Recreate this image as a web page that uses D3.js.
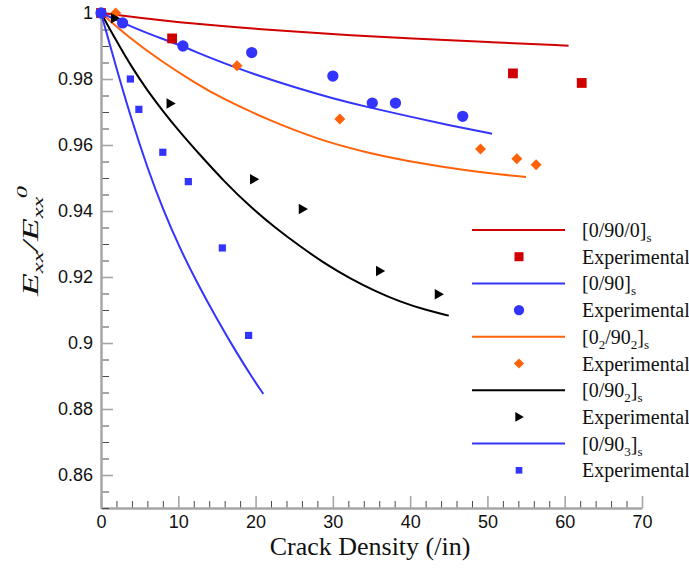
<!DOCTYPE html>
<html>
<head>
<meta charset="utf-8">
<script src="https://cdn.jsdelivr.net/npm/d3@7"></script>
<style>
  body { margin: 0; background: #fff; }
  svg { display: block; }
</style>
</head>
<body>
<svg id="chart" width="689" height="575"></svg>
<script>
// Stiffness reduction vs. crack density: model curves and experimental points

// [0/90/0]s
const r1LineX = [0, 5, 10, 16, 20, 26, 32, 40, 50, 60.5];
const r1LineY = [1, 0.9985, 0.9972, 0.9960, 0.9952, 0.9942, 0.9933, 0.9923, 0.9912, 0.9901];
const r1ExpX = [0, 9.2, 53.3, 62.2];
const r1ExpY = [1.0, 0.9923, 0.9817, 0.9788];

// [0/90]s
const b1LineX = [0, 3, 6, 10, 15, 20, 25, 30, 35, 40, 45, 50.6];
const b1LineY = [1, 0.9968, 0.9938, 0.9905, 0.9855, 0.9813, 0.9775, 0.9741, 0.9712, 0.9686, 0.9660, 0.9634];
const b1ExpX = [0, 2.8, 10.6, 19.5, 30.0, 35.1, 38.1, 46.8];
const b1ExpY = [1.0, 0.9970, 0.9900, 0.9880, 0.9809, 0.9727, 0.9727, 0.9687];

// [0_2/90_2]s
const o1LineX = [0, 3.5, 7.85, 12.2, 15.4, 21.9, 28.3, 34.8, 41.3, 47.7, 51.6, 55];
const o1LineY = [1, 0.9928, 0.9853, 0.9788, 0.9744, 0.9673, 0.9615, 0.9574, 0.9544, 0.9521, 0.9511, 0.9503];
const o1ExpX = [1.9, 17.6, 30.9, 49.1, 53.8, 56.3];
const o1ExpY = [1.0, 0.9840, 0.9679, 0.9588, 0.9558, 0.9540];

// [0/90_2]s
const k1LineX = [0, 2, 4, 6, 8, 10, 12.8, 16, 19.3, 22.5, 25.8, 29, 32.2, 35.5, 38.7, 42, 45];
const k1LineY = [1, 0.9915, 0.9835, 0.9765, 0.9703, 0.9645, 0.9570, 0.9488, 0.9413, 0.9350, 0.9292, 0.9240, 0.9196, 0.9157, 0.9125, 0.9100, 0.9083];
const k1ExpX = [1.8, 9.0, 19.8, 26.1, 36.1, 43.7];
const k1ExpY = [0.9984, 0.9726, 0.9496, 0.9406, 0.9218, 0.9148];

// [0/90_3]s
const b3LineX = [0, 2, 3.9, 6.1, 8, 10.2, 12.4, 15, 17.5, 19.9, 21];
const b3LineY = [1, 0.9832, 0.9680, 0.9524, 0.9406, 0.9287, 0.9184, 0.9072, 0.8972, 0.8883, 0.8846];
const b3ExpX = [0, 3.8, 4.9, 8.0, 11.3, 15.7, 19.1];
const b3ExpY = [1.0, 0.9800, 0.9708, 0.9578, 0.9489, 0.9288, 0.9023];

// Legend labels: [text, isSubscript] pieces
const legendLabels = [
  [["[0/90/0]", false], ["s", true]],
  [["Experimental", false]],
  [["[0/90]", false], ["s", true]],
  [["Experimental", false]],
  [["[0", false], ["2", true], ["/90", false], ["2", true], ["]", false], ["s", true]],
  [["Experimental", false]],
  [["[0/90", false], ["2", true], ["]", false], ["s", true]],
  [["Experimental", false]],
  [["[0/90", false], ["3", true], ["]", false], ["s", true]],
  [["Experimental", false]]
];

const xMajorTicks = [0, 10, 20, 30, 40, 50, 60, 70];
const yMajorTicks = [0.86, 0.88, 0.9, 0.92, 0.94, 0.96, 0.98, 1];
const xTitle = "Crack Density (/in)";

const RED = "#d10000", BLUE = "#3434ff", ORANGE = "#ff6208", BLACK = "#000000";

const svg = d3.select("#chart");
const x = d3.scaleLinear([0, 70], [101, 642]);
const y = d3.scaleLinear([0.85, 1.0], [508, 13]);

// custom marker shapes
const triRight = {
  draw(ctx, size) {
    const h = Math.sqrt(size);
    ctx.moveTo(-h * 0.42, -h * 0.55);
    ctx.lineTo(h * 0.55, 0);
    ctx.lineTo(-h * 0.42, h * 0.55);
    ctx.closePath();
  }
};
const diamond = {
  draw(ctx, size) {
    const r = Math.sqrt(size) / 2;
    ctx.moveTo(0, -r);
    ctx.lineTo(r, 0);
    ctx.lineTo(0, r);
    ctx.lineTo(-r, 0);
    ctx.closePath();
  }
};

const series = [
  { lx: r1LineX, ly: r1LineY, ex: r1ExpX, ey: r1ExpY, color: RED, sym: d3.symbolSquare, size: 96 },
  { lx: b1LineX, ly: b1LineY, ex: b1ExpX, ey: b1ExpY, color: BLUE, sym: d3.symbolCircle, size: 100 },
  { lx: o1LineX, ly: o1LineY, ex: o1ExpX, ey: o1ExpY, color: ORANGE, sym: diamond, size: 121 },
  { lx: k1LineX, ly: k1LineY, ex: k1ExpX, ey: k1ExpY, color: BLACK, sym: triRight, size: 90 },
  { lx: b3LineX, ly: b3LineY, ex: b3ExpX, ey: b3ExpY, color: BLUE, sym: d3.symbolSquare, size: 52 }
];

// ---- axes ----
const axisColor = "#a6a6a6";
const xMinor = d3.range(0, 71, 2).filter(v => v % 10 !== 0);
const yMinor = d3.range(0, 30).map(i => +(0.85 + i * 0.005).toFixed(3)).filter(v => v <= 1 && Math.round(v * 1000) % 20 !== 0);

const gx = svg.append("g").attr("transform", "translate(0,508)");
gx.call(d3.axisBottom(x).tickValues(xMinor).tickSize(-7).tickSizeOuter(0).tickFormat(""));
gx.call(g => g.selectAll(".tick line").attr("stroke", "#4a4a4a").attr("stroke-width", 1));
const gx2 = svg.append("g").attr("transform", "translate(0,508)");
gx2.call(d3.axisBottom(x).tickValues(xMajorTicks).tickSize(-12).tickSizeOuter(0).tickPadding(7).tickFormat(d3.format("d")));

const gy = svg.append("g").attr("transform", "translate(101,0)");
gy.call(d3.axisLeft(y).tickValues(yMinor).tickSize(-8).tickSizeOuter(0).tickFormat(""));
gy.call(g => g.selectAll(".tick line").attr("stroke", "#4a4a4a").attr("stroke-width", 1));
const gy2 = svg.append("g").attr("transform", "translate(101,0)");
gy2.call(d3.axisLeft(y).tickValues(yMajorTicks).tickSize(-12).tickSizeOuter(0).tickPadding(8)
  .tickFormat(d => String(+d.toFixed(2))));

[gx, gy].forEach(g => g.select(".domain").remove());
[gx2, gy2].forEach(g => {
  g.select(".domain").attr("stroke", axisColor).attr("stroke-width", 2.5);
  g.selectAll(".tick line").attr("stroke", axisColor).attr("stroke-width", 1.6);
  g.selectAll(".tick text").attr("fill", "#111")
    .style("font-family", "'Liberation Sans', Arial, sans-serif").style("font-size", "18px");
});

// ---- curves and points ----
const line = d3.line().curve(d3.curveBasis);
const plot = svg.append("g");
series.forEach(s => {
  const pts = s.lx.map((v, i) => [x(v), y(s.ly[i])]);
  plot.append("path").attr("d", line(pts)).attr("fill", "none")
    .attr("stroke", s.color).attr("stroke-width", 2);
});
series.forEach(s => {
  plot.append("g").selectAll("path").data(s.ex.map((v, i) => [v, s.ey[i]])).join("path")
    .attr("transform", d => `translate(${x(d[0])},${y(d[1])})`)
    .attr("d", d3.symbol().type(s.sym).size(s.size))
    .attr("fill", s.color);
});

// ---- axis titles ----
svg.append("text").attr("x", 370).attr("y", 555).attr("text-anchor", "middle")
  .style("font-family", "'Liberation Serif', 'Times New Roman', serif").style("font-size", "26px")
  .attr("fill", "#111").text(xTitle);

const yt = svg.append("text").attr("transform", "translate(38,241) rotate(-90)")
  .attr("text-anchor", "middle")
  .attr("textLength", 110).attr("lengthAdjust", "spacingAndGlyphs")
  .style("font-family", "'Liberation Serif', 'Times New Roman', serif").style("font-style", "italic")
  .style("font-size", "23px").attr("fill", "#111");
yt.append("tspan").text("E");
yt.append("tspan").attr("dy", 5).style("font-size", "15px").text("xx");
yt.append("tspan").attr("dy", -5).text("/E");
yt.append("tspan").attr("dy", 5).style("font-size", "15px").text("xx");
yt.append("tspan").attr("dy", -16).attr("dx", -1).style("font-size", "15px").text("0");

// ---- legend ----
const legY0 = 230, legStep = 26.7;
const leg = svg.append("g");
legendLabels.forEach((parts, i) => {
  const cy = legY0 + i * legStep;
  const s = series[Math.floor(i / 2)];
  if (i % 2 === 0) {
    leg.append("line").attr("x1", 472).attr("x2", 565).attr("y1", cy).attr("y2", cy)
      .attr("stroke", s.color).attr("stroke-width", 2);
  } else {
    leg.append("path").attr("transform", `translate(519,${cy})`)
      .attr("d", d3.symbol().type(s.sym).size(s.size * 0.85)).attr("fill", s.color);
  }
  const t = leg.append("text").attr("x", 582).attr("y", cy + 7)
    .style("font-family", "'Liberation Serif', 'Times New Roman', serif").style("font-size", "20px")
    .attr("fill", "#111");
  let down = false;
  parts.forEach(([str, sub]) => {
    const ts = t.append("tspan").text(str);
    if (sub && !down) { ts.attr("dy", 5).style("font-size", "13px"); down = true; }
    else if (sub) { ts.style("font-size", "13px"); }
    else if (down) { ts.attr("dy", -5); down = false; }
  });
});
</script>
</body>
</html>
